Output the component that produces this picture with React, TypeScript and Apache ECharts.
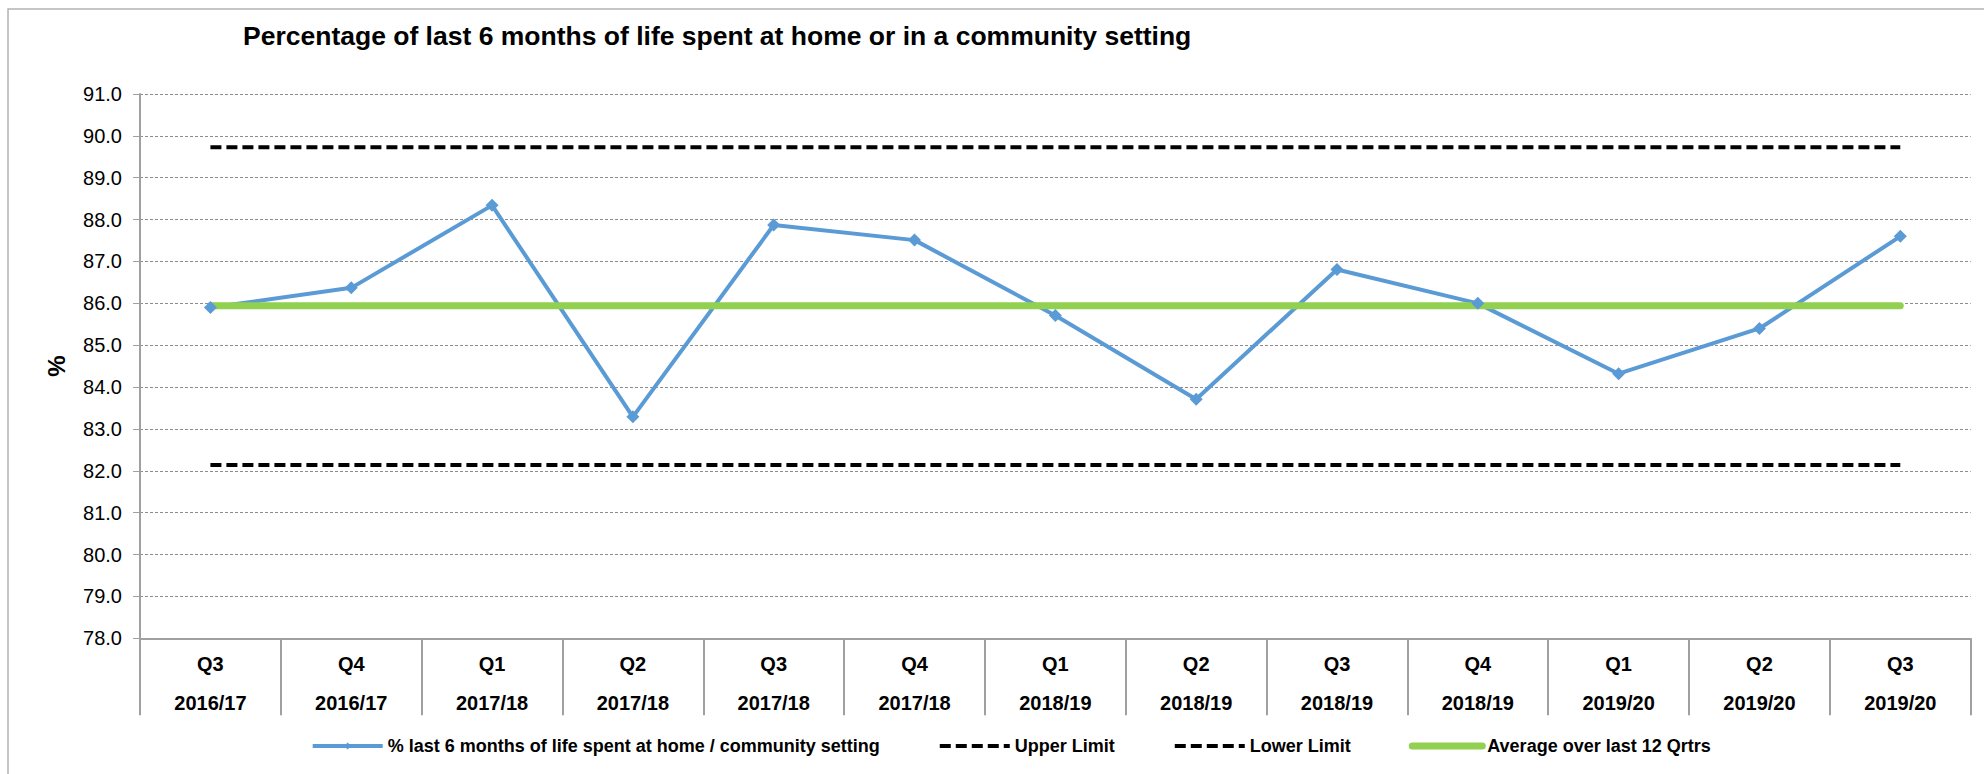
import React, { useEffect, useRef } from "react";
import * as echarts from "echarts";

const quarters = ["Q3", "Q4", "Q1", "Q2", "Q3", "Q4", "Q1", "Q2", "Q3", "Q4", "Q1", "Q2", "Q3"];
const years = ["2016/17", "2016/17", "2017/18", "2017/18", "2017/18", "2017/18", "2018/19", "2018/19", "2018/19", "2018/19", "2019/20", "2019/20", "2019/20"];
const homeValues = [85.9, 86.37, 88.34, 83.29, 87.87, 87.51, 85.71, 83.71, 86.81, 86.0, 84.32, 85.4, 87.6];
const upperLimit = [89.73, 89.73, 89.73, 89.73, 89.73, 89.73, 89.73, 89.73, 89.73, 89.73, 89.73, 89.73, 89.73];
const lowerLimit = [82.14, 82.14, 82.14, 82.14, 82.14, 82.14, 82.14, 82.14, 82.14, 82.14, 82.14, 82.14, 82.14];
const average12 = [85.94, 85.94, 85.94, 85.94, 85.94, 85.94, 85.94, 85.94, 85.94, 85.94, 85.94, 85.94, 85.94];

const seriesNames = [
  "% last 6 months of life spent at home / community setting",
  "Upper Limit",
  "Lower Limit",
  "Average over last 12 Qrtrs",
];
const titleText = "Percentage of last 6 months of life spent at home or in a community setting";

const FONT = "Liberation Sans, Arial, sans-serif";

export default function App() {
  const ref = useRef<HTMLDivElement>(null);

  useEffect(() => {
    document.body.style.margin = "0";
    const chart = echarts.init(ref.current!, null, { renderer: "svg" });
    const categories = quarters.map((q, i) => q + "\n" + years[i]);
    chart.setOption({
      animation: false,
      backgroundColor: "#ffffff",
      textStyle: { fontFamily: FONT },
      graphic: [
        {
          type: "rect",
          shape: { x: 8, y: 9, width: 2000, height: 800 },
          style: { fill: "none", stroke: "#b3b3b3", lineWidth: 1.5 },
          silent: true,
          z: -1,
        },
      ],
      title: {
        text: titleText,
        left: 243,
        top: 22,
        padding: 0,
        textStyle: { fontFamily: FONT, fontWeight: "bold", fontSize: 26.5, color: "#000" },
      },
      legend: {
        left: 310.7,
        top: 737,
        padding: 0,
        itemWidth: 70,
        itemHeight: 9,
        itemGap: 58,
        textStyle: { fontFamily: FONT, fontWeight: "bold", fontSize: 18, color: "#000" },
        lineStyle: { width: "inherit" },
        data: [
          { name: seriesNames[0] },
          { name: seriesNames[1], itemStyle: { opacity: 0 } },
          { name: seriesNames[2], itemStyle: { opacity: 0 } },
          { name: seriesNames[3], itemStyle: { opacity: 0 } },
        ],
      },
      grid: { left: 140, right: 13.3, top: 94, bottom: 135.7, containLabel: false },
      xAxis: {
        type: "category",
        data: categories,
        boundaryGap: true,
        axisLine: { show: true, lineStyle: { color: "#a0a0a0", width: 2 } },
        axisTick: { show: true, length: 77, lineStyle: { color: "#a0a0a0", width: 2 } },
        axisLabel: {
          interval: 0,
          margin: 6,
          fontFamily: FONT,
          fontWeight: "bold",
          fontSize: 20,
          lineHeight: 39,
          color: "#000",
        },
        splitLine: { show: false },
      },
      yAxis: {
        type: "value",
        min: 78,
        max: 91,
        interval: 1,
        name: "%",
        nameLocation: "middle",
        nameGap: 72,
        nameTextStyle: { fontFamily: FONT, fontWeight: "bold", fontSize: 24, color: "#000" },
        axisLine: { show: true, lineStyle: { color: "#a0a0a0", width: 2 } },
        axisTick: { show: true, inside: false, length: 7, lineStyle: { color: "#a0a0a0", width: 1 } },
        axisLabel: {
          margin: 18,
          fontFamily: FONT,
          fontSize: 20,
          color: "#000",
          formatter: (v: number) => v.toFixed(1),
        },
        splitLine: { show: true, lineStyle: { color: "#8c8c8c", width: 1, type: [3, 2] } },
      },
      series: [
        {
          name: seriesNames[0],
          type: "line",
          data: homeValues,
          symbol: "diamond",
          symbolSize: 13,
          lineStyle: { color: "#5b9bd5", width: 4 },
          itemStyle: { color: "#5b9bd5" },
        },
        {
          name: seriesNames[1],
          type: "line",
          data: upperLimit,
          symbol: "none",
          lineStyle: { color: "#000", width: 4, type: [11, 5] },
          itemStyle: { color: "#000" },
        },
        {
          name: seriesNames[2],
          type: "line",
          data: lowerLimit,
          symbol: "none",
          lineStyle: { color: "#000", width: 4, type: [11, 5] },
          itemStyle: { color: "#000" },
        },
        {
          name: seriesNames[3],
          type: "line",
          data: average12,
          symbol: "none",
          lineStyle: { color: "#92d050", width: 7, cap: "round" },
          itemStyle: { color: "#92d050" },
        },
      ],
    });
    return () => chart.dispose();
  }, []);

  return <div ref={ref} style={{ width: 1984, height: 774 }} />;
}
